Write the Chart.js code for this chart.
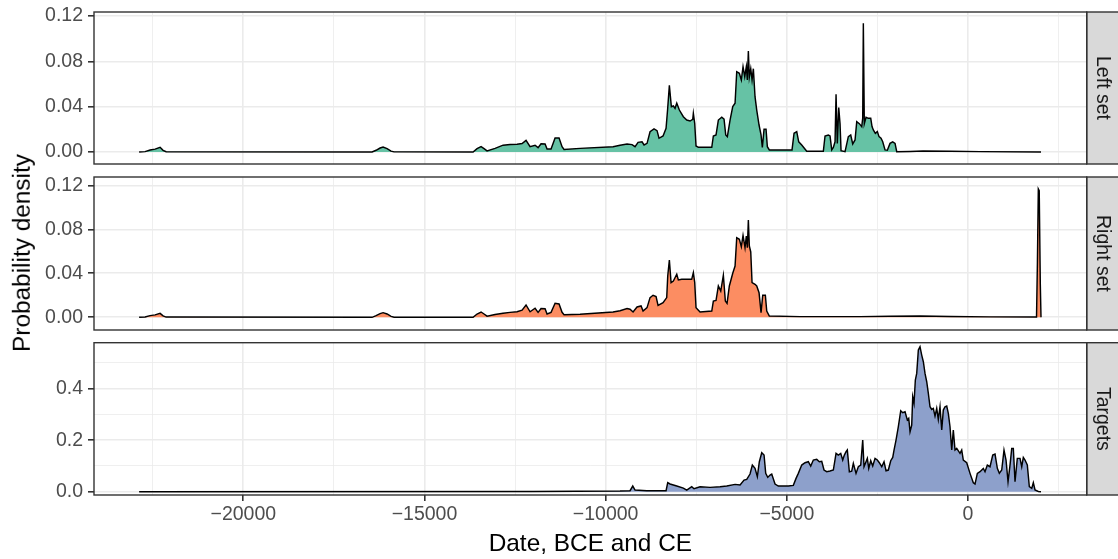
<!DOCTYPE html>
<html>
<head>
<meta charset="utf-8">
<script src="https://cdn.jsdelivr.net/npm/chart.js@4.4.1/dist/chart.umd.min.js"></script>
<style>
html,body{margin:0;padding:0;background:#fff;}
#wrap{position:relative;width:1118px;height:559px;overflow:hidden;background:#fff;font-family:"Liberation Sans",Arial,sans-serif;}
canvas{position:absolute;left:0;display:block;}
#ytitle{position:absolute;left:22px;top:253px;transform:translate(-50%,-50%) rotate(-90deg);font-size:24.4px;white-space:nowrap;color:#000;line-height:1;}
</style>
</head>
<body>
<div id="wrap">
  <canvas id="c1" width="1118" height="170" style="top:0px"></canvas>
  <canvas id="c2" width="1118" height="166" style="top:170px"></canvas>
  <canvas id="c3" width="1118" height="223" style="top:336px"></canvas>
  <div id="ytitle">Probability density</div>
</div>
<script>
// ---------------- DATA ----------------
const panelNames = ['Left set', 'Right set', 'Targets'];
const xTitle = 'Date, BCE and CE';

const xMajorTicks = [-20000, -15000, -10000, -5000, 0];
const xMajorLabels = ['\u221220000', '\u221215000', '\u221210000', '\u22125000', '0'];
const xMinorTicks = [-22500, -17500, -12500, -7500, -2500, 2500];

const smallMajorTicks = [0, 0.04, 0.08, 0.12];
const smallMajorLabels = ['0.00', '0.04', '0.08', '0.12'];
const smallMinorTicks = [0.02, 0.06, 0.10];

const targetMajorTicks = [0, 0.2, 0.4];
const targetMajorLabels = ['0.0', '0.2', '0.4'];
const targetMinorTicks = [0.1, 0.3, 0.5];

const leftYear = [
  -22875,-22710,-22572,-22434,-22296,-22213,-22130,-16446,-16336,-16225,
  -16142,-16032,-15922,-15839,-13659,-13549,-13438,-13356,-13273,-13052,
  -12831,-12638,-12445,-12307,-12197,-12086,-11948,-11865,-11783,-11672,
  -11617,-11507,-11396,-11286,-11203,-11148,-10706,-9796,-9603,-9410,
  -9272,-9189,-9106,-8996,-8940,-8858,-8775,-8665,-8582,-8527,
  -8416,-8333,-8292,-8242,-8187,-8132,-8085,-8038,-7966,-7856,
  -7762,-7671,-7597,-7580,-7542,-7506,-7442,-7072,-7028,-6954,
  -6890,-6796,-6733,-6686,-6642,-6567,-6493,-6429,-6383,-6311,
  -6256,-6209,-6162,-6118,-6090,-6062,-6035,-5996,-5960,-5924,
  -5878,-5831,-5767,-5712,-5676,-5629,-5574,-5538,-5483,-4857,
  -4801,-4727,-4672,-4589,-4451,-3993,-3946,-3855,-3808,-3761,
  -3717,-3670,-3642,-3607,-3568,-3532,-3504,-3394,-3303,-3237,
  -3182,-3118,-3071,-2999,-2933,-2906,-2889,-2862,-2815,-2751,
  -2685,-2649,-2613,-2558,-2503,-2456,-2401,-2354,-2290,-2227,
  -2152,-2078,-2014,-1967,-1600,-1242,-497,331,2014
];
const leftDensity = [
  0,0.0003,0.0018,0.0025,0.0042,0.0015,0.0002,0,0.0015,0.0035,
  0.0044,0.003,0.0008,0.0001,0,0.003,0.0047,0.003,0.001,0.0032,
  0.006,0.0066,0.0068,0.0075,0.0103,0.0047,0.006,0.0038,0.0073,0.007,
  0.0026,0.0026,0.0124,0.0124,0.0047,0.0023,0.0032,0.0047,0.0059,0.0071,
  0.0065,0.0047,0.0085,0.009,0.0062,0.0076,0.0179,0.0203,0.0188,0.0121,
  0.0141,0.0209,0.037,0.0588,0.04,0.0406,0.0385,0.043,0.037,0.0311,
  0.0282,0.0273,0.0288,0.034,0.025,0.0053,0.0041,0.0041,0.0141,0.015,
  0.0282,0.0306,0.029,0.015,0.0135,0.0282,0.04,0.043,0.0708,0.0694,
  0.0635,0.0752,0.0664,0.0752,0.0635,0.0891,0.066,0.0735,0.0635,0.0735,
  0.0488,0.037,0.0238,0.015,0.0041,0.02,0.02,0.0047,0.0018,0.0018,
  0.0165,0.018,0.009,0.0062,0.0006,0.0006,0.0141,0.015,0.0141,0.0018,
  0.004,0.009,0.0509,0.0076,0.0393,0.025,0.0012,0.0003,0.0135,0.015,
  0.0071,0.0106,0.0268,0.025,0.0224,0.03,0.1135,0.025,0.0306,0.0297,
  0.0297,0.0224,0.0194,0.0165,0.018,0.0135,0.0121,0.009,0.0018,0.0015,
  0.0076,0.009,0.0076,0.0003,0.0005,0.0009,0.0006,0.0003,0
];

const rightYear = [
  -22875,-22710,-22572,-22434,-22296,-22213,-22130,-16446,-16336,-16225,
  -16142,-16032,-15922,-15839,-13659,-13549,-13438,-13356,-13273,-13052,
  -12831,-12638,-12445,-12307,-12197,-12086,-11948,-11865,-11783,-11672,
  -11617,-11507,-11396,-11286,-11203,-11148,-10706,-9796,-9603,-9410,
  -9327,-9244,-9134,-9023,-8968,-8858,-8775,-8692,-8609,-8554,
  -8416,-8315,-8287,-8242,-8195,-8132,-8038,-7994,-7901,-7718,
  -7626,-7580,-7542,-7506,-7395,-7072,-7028,-6954,-6890,-6824,
  -6752,-6697,-6650,-6587,-6493,-6429,-6383,-6311,-6256,-6209,
  -6154,-6118,-6090,-6062,-6035,-5996,-5960,-5878,-5831,-5767,
  -5712,-5665,-5593,-5555,-5483,-4636,-2980,-2152,-1325,-497,
  607,1890,1915,1940,1965,1995,2014
];
const rightDensity = [
  0,0.0003,0.0015,0.0022,0.0036,0.0013,0.0002,0,0.0015,0.0033,
  0.0042,0.003,0.0008,0.0001,0,0.003,0.0048,0.003,0.001,0.0025,
  0.0036,0.0045,0.005,0.0065,0.0112,0.005,0.0082,0.0045,0.008,0.0078,
  0.003,0.0045,0.0127,0.0121,0.0045,0.0024,0.0027,0.0048,0.006,0.0079,
  0.0073,0.0048,0.0094,0.0103,0.0057,0.0088,0.0179,0.02,0.0188,0.0109,
  0.0133,0.0179,0.0376,0.0521,0.0315,0.033,0.0391,0.0339,0.0345,0.0345,
  0.0345,0.0406,0.0315,0.0088,0.0048,0.0057,0.0148,0.0154,0.0285,0.0239,
  0.0382,0.0148,0.0127,0.0285,0.04,0.0466,0.0724,0.0709,0.0642,0.0745,
  0.0633,0.0739,0.0633,0.0884,0.0648,0.0594,0.0315,0.03,0.0285,0.0224,
  0.0042,0.02,0.02,0.0057,0.0012,0.0006,0.0006,0.0009,0.0012,0.0008,
  0.0004,0.0003,0.05,0.1166,0.115,0.03,0
];

const targetYear = [
  -22875,-12000,-9603,-9327,-9252,-9189,-8866,-8333,-8287,-8223,
  -8038,-7856,-7762,-7625,-7561,-7395,-7119,-6843,-6658,-6429,
  -6291,-6181,-6107,-6016,-5952,-5878,-5814,-5759,-5693,-5629,
  -5583,-5527,-5464,-5417,-5326,-5235,-5097,-4959,-4821,-4746,
  -4683,-4589,-4498,-4407,-4341,-4269,-4175,-4103,-4037,-3974,
  -3899,-3808,-3717,-3642,-3579,-3513,-3458,-3413,-3366,-3331,
  -3275,-3210,-3165,-3091,-3027,-2961,-2906,-2870,-2815,-2779,
  -2740,-2685,-2630,-2566,-2503,-2448,-2381,-2318,-2263,-2199,
  -2133,-2078,-2042,-1987,-1923,-1857,-1802,-1738,-1675,-1636,
  -1600,-1554,-1526,-1490,-1454,-1416,-1371,-1325,-1278,-1233,
  -1187,-1140,-1095,-1049,-1002,-958,-911,-864,-820,-773,
  -726,-682,-635,-588,-544,-497,-450,-406,-359,-312,
  -221,-174,-130,-36,55,146,193,257,331,422,
  469,533,607,682,745,809,864,930,993,1049,
  1104,1159,1206,1250,1297,1360,1435,1482,1526,1573,
  1636,1692,1758,1802,1849,1940,2014
];
const targetDensity = [
  0,0.0005,0.0026,0.004,0.022,0.0065,0.004,0.004,0.035,0.030,
  0.022,0.014,0.0065,0.0194,0.0116,0.0194,0.0168,0.0194,0.022,0.0285,
  0.026,0.0453,0.048,0.0686,0.1035,0.0906,0.0582,0.1165,0.1514,0.1423,
  0.0712,0.0556,0.0647,0.0686,0.0298,0.022,0.022,0.022,0.0246,0.0518,
  0.0712,0.1035,0.1126,0.1165,0.0997,0.123,0.1255,0.1165,0.118,0.0841,
  0.0776,0.0802,0.0841,0.1488,0.1423,0.1488,0.123,0.1423,0.1553,0.1618,
  0.0776,0.08,0.11,0.0712,0.097,0.1035,0.2006,0.097,0.1165,0.1294,
  0.0906,0.1203,0.0997,0.1294,0.123,0.1126,0.097,0.1165,0.0815,0.0841,
  0.1203,0.1333,0.1618,0.2006,0.2523,0.3144,0.3067,0.3106,0.2782,0.285,
  0.2329,0.2588,0.3688,0.3429,0.4335,0.4594,0.55,0.563,0.5305,0.5047,
  0.4594,0.427,0.3817,0.33,0.3196,0.3235,0.2937,0.3235,0.2808,0.33,
  0.2394,0.317,0.33,0.3326,0.3041,0.2523,0.1618,0.2394,0.1618,0.1682,
  0.1488,0.1618,0.123,0.1126,0.0712,0.035,0.0298,0.0712,0.0776,0.0906,
  0.0776,0.1035,0.097,0.1423,0.1462,0.0906,0.0712,0.0841,0.1618,0.123,
  0.0388,0.1035,0.1682,0.1682,0.0388,0.1294,0.1294,0.097,0.1333,0.123,
  0.1035,0.0194,0.0129,0.035,0.0065,0.001,0
];

// ---------------- STYLE / LAYOUT ----------------
const FONT = '"Liberation Sans", Arial, Helvetica, sans-serif';
Chart.defaults.font.family = FONT;
const X_MIN = -24120, X_MAX = 3275;
const AREA_LEFT = 94, AREA_RIGHT = 1086.7, STRIP_W = 33;
const GRID = '#EBEBEB', DARK = '#333333';

const near = (arr, v) => arr.some(m => Math.abs(m - v) < 1e-9);

const facetPlugin = {
  id: 'facet',
  afterDraw(chart, args, opts) {
    const {ctx, chartArea: a} = chart;
    ctx.save();
    ctx.fillStyle = '#D9D9D9';
    ctx.fillRect(a.right, a.top, STRIP_W, a.bottom - a.top);
    ctx.strokeStyle = DARK;
    ctx.lineWidth = 1.4;
    ctx.strokeRect(a.left, a.top, a.right - a.left, a.bottom - a.top);
    ctx.strokeRect(a.right, a.top, STRIP_W, a.bottom - a.top);
    ctx.translate(a.right + 15.5, (a.top + a.bottom) / 2);
    ctx.rotate(Math.PI / 2);
    ctx.fillStyle = '#1A1A1A';
    ctx.font = '19.5px ' + FONT;
    ctx.textAlign = 'center';
    ctx.textBaseline = 'middle';
    ctx.fillText(opts.label, 0, 0);
    ctx.restore();
  }
};

function makePanel(id, years, dens, color, yMin, yMax, yMaj, yLab, yMin2, strip, padTop, padBottom, isBottom) {
  const yTickVals = yMaj.concat(yMin2).sort((a, b) => a - b);
  const xTickVals = xMajorTicks.concat(xMinorTicks).sort((a, b) => a - b);
  return new Chart(document.getElementById(id), {
    type: 'line',
    data: {
      datasets: [{
        data: years.map((x, i) => ({x: x, y: dens[i]})),
        borderColor: '#000000',
        borderWidth: 1.45,
        backgroundColor: color,
        fill: 'origin',
        pointRadius: 0,
        tension: 0
      }]
    },
    options: {
      responsive: false,
      animation: false,
      events: [],
      layout: {padding: {top: padTop, bottom: padBottom, left: 0, right: 1118 - AREA_RIGHT}},
      plugins: {legend: {display: false}, tooltip: {enabled: false}, facet: {label: strip}},
      scales: {
        x: {
          type: 'linear', min: X_MIN, max: X_MAX,
          afterBuildTicks: s => { s.ticks = xTickVals.map(v => ({value: v})); },
          afterFit: s => { s.paddingLeft = 0; s.paddingRight = 0; s.height = isBottom ? 64 : 0; },
          grid: {
            color: GRID,
            lineWidth: c => (c.tick && near(xMajorTicks, c.tick.value)) ? 1.6 : 0.8,
            drawTicks: isBottom,
            tickLength: 6,
            tickWidth: 1.6,
            tickColor: c => (c.tick && near(xMajorTicks, c.tick.value)) ? DARK : 'rgba(0,0,0,0)'
          },
          border: {display: false},
          ticks: {
            display: isBottom, autoSkip: false, maxRotation: 0, minRotation: 0, padding: 2,
            color: '#4D4D4D', font: {size: 19.5},
            callback: v => { const i = xMajorTicks.indexOf(v); return i >= 0 ? xMajorLabels[i] : ''; }
          },
          title: {display: isBottom, text: xTitle, color: '#000000', font: {size: 24.4}, padding: {top: 0, bottom: 0}}
        },
        y: {
          type: 'linear', min: yMin, max: yMax,
          afterBuildTicks: s => { s.ticks = yTickVals.map(v => ({value: v})); },
          afterFit: s => { s.width = AREA_LEFT; s.paddingTop = 0; s.paddingBottom = 0; },
          grid: {
            color: GRID,
            lineWidth: c => (c.tick && near(yMaj, c.tick.value)) ? 1.6 : 0.8,
            drawTicks: true,
            tickLength: 6,
            tickWidth: 1.6,
            tickColor: c => (c.tick && near(yMaj, c.tick.value)) ? DARK : 'rgba(0,0,0,0)'
          },
          border: {display: false},
          ticks: {
            padding: 5, color: '#4D4D4D', font: {size: 19.5},
            callback: v => { for (let i = 0; i < yMaj.length; i++) { if (Math.abs(yMaj[i] - v) < 1e-9) return yLab[i]; } return ''; }
          }
        }
      }
    },
    plugins: [facetPlugin]
  });
}

makePanel('c1', leftYear, leftDensity, '#66C2A5', -0.0106, 0.1235,
  smallMajorTicks, smallMajorLabels, smallMinorTicks, panelNames[0], 12, 6, false);
makePanel('c2', rightYear, rightDensity, '#FC8D62', -0.01155, 0.12755,
  smallMajorTicks, smallMajorLabels, smallMinorTicks, panelNames[1], 7, 6, false);
makePanel('c3', targetYear, targetDensity, '#8DA0CB', -0.0128, 0.5786,
  targetMajorTicks, targetMajorLabels, targetMinorTicks, panelNames[2], 6.7, 0, true);
</script>
</body>
</html>
